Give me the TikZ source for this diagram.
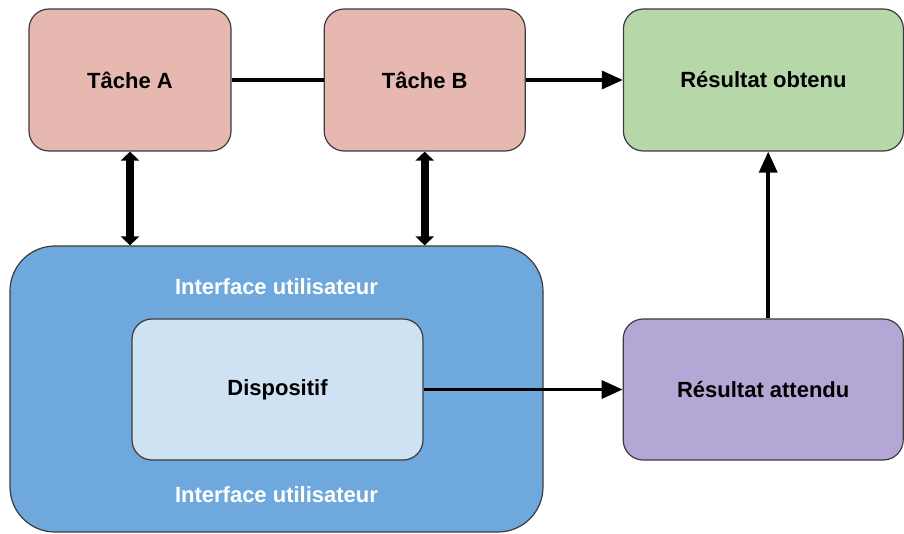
\documentclass[tikz,border=0pt]{standalone}
\usepackage{fontspec}
\setmainfont{Liberation Sans}
\usepackage{xcolor}
\usetikzlibrary{positioning,arrows.meta}
\definecolor{tachefill}{HTML}{E6B8AF}
\definecolor{obtenufill}{HTML}{B6D7A8}
\definecolor{attendufill}{HTML}{B4A7D6}
\definecolor{interfacefill}{HTML}{6FA8DC}
\definecolor{dispofill}{HTML}{CFE2F3}
\definecolor{bordure}{HTML}{3C3C3C}

\begin{document}
\begin{tikzpicture}[x=1pt, y=1pt, node distance=92pt,
  boite/.style={rectangle, rounded corners=20pt, draw=bordure, line width=1.2pt, align=center,
    font=\fontsize{22}{26}\selectfont\bfseries, minimum height=142pt},
  fleche/.style={-{Triangle[length=21pt,width=18pt]}, line width=3.5pt},
  doublefleche/.style={{Triangle[length=9pt,width=18pt]}-{Triangle[length=9pt,width=18pt]}, line width=8pt}]
\useasboundingbox (0,0) rectangle (904,533);
\node (interface) at (276.5,144) [rectangle, rounded corners=45pt, draw=bordure, line width=1.2pt, fill=interfacefill, minimum width=533pt, minimum height=286pt] {};
\node (titrehaut) at (276.5,246) [font=\fontsize{22}{26}\selectfont\bfseries, text=white] {Interface utilisateur};
\node (titrebas) at (276.5,38) [font=\fontsize{22}{26}\selectfont\bfseries, text=white] {Interface utilisateur};
\node (dispositif) at (277.5,143.5) [boite, fill=dispofill, minimum width=291pt, minimum height=141pt] {Dispositif};
\node (tacheA) at (130,453) [boite, fill=tachefill, minimum width=202pt] {Tâche A};
\node (tacheB) [right=of tacheA, boite, fill=tachefill, minimum width=201pt] {Tâche B};
\node (obtenu) [right=97pt of tacheB, boite, fill=obtenufill, minimum width=280pt] {Résultat obtenu};
\node (attendu) [right=199pt of dispositif, boite, fill=attendufill, minimum width=280pt, minimum height=141pt] {Résultat attendu};

\draw[line width=3.5pt] (tacheA) -- (tacheB);
\draw[fleche] (tacheB) -- (obtenu);
\draw[fleche] (dispositif) -- (attendu);
\draw[fleche] ([xshift=5pt]attendu.north) -- ([xshift=5pt]attendu.north |- obtenu.south);
\draw[doublefleche] (tacheA.south) -- (tacheA.south |- interface.north);
\draw[doublefleche] (tacheB.south) -- (tacheB.south |- interface.north);
\end{tikzpicture}
\end{document}
